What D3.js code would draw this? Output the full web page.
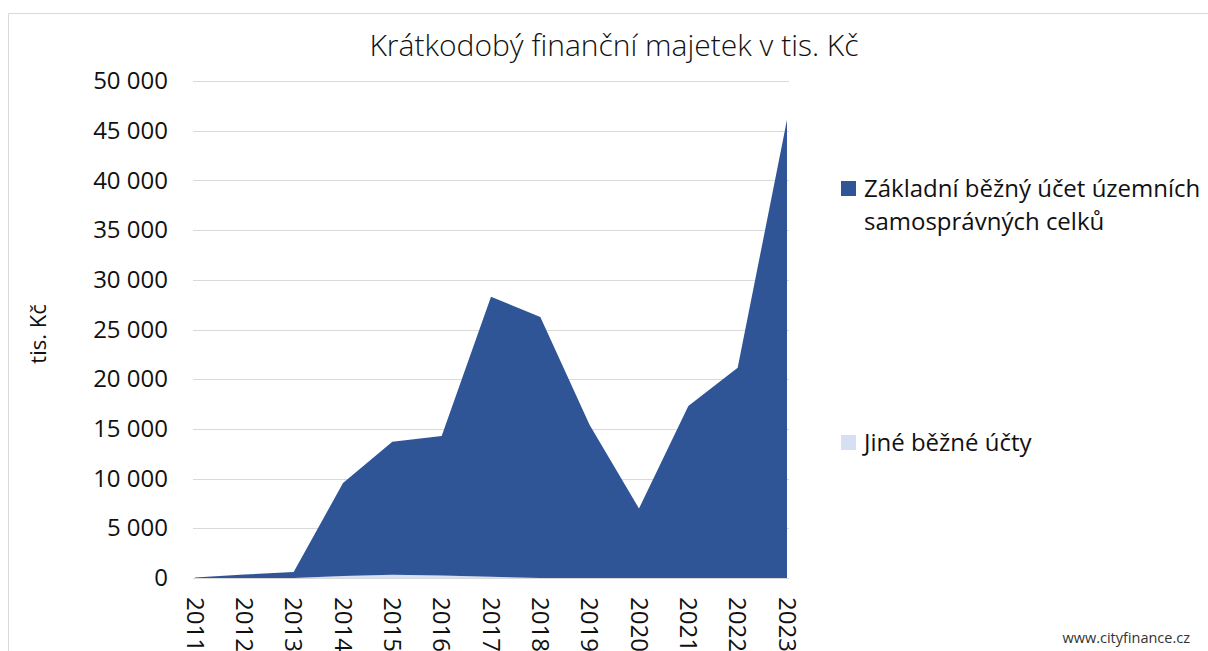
<!DOCTYPE html>
<html>
<head>
<meta charset="utf-8">
<script src="https://cdn.jsdelivr.net/npm/d3@7"></script>
<style>
  body { margin: 0; background: #fff; }
  svg { display: block; font-family: 'Open Sans', sans-serif; }
</style>
</head>
<body>
<div id="chart"></div>
<script>
// data (tis. Kč)
const years = ['2011', '2012', '2013', '2014', '2015', '2016', '2017', '2018', '2019', '2020', '2021', '2022', '2023'];
const jineUcty = [0, 0, 0, 200, 320, 250, 120, 0, 0, 0, 0, 0, 0];
const zakladniUcet = [50, 350, 600, 9350, 13380, 14030, 28180, 26250, 15400, 7000, 17300, 21150, 46100];
const yTicks = [0, 5000, 10000, 15000, 20000, 25000, 30000, 35000, 40000, 45000, 50000];

const colors = { jine: '#D6E0F2', zakladni: '#2F5597' };

// params
let width = 1208;
let height = 651;
let plotLeft = 195;
let plotRight = 787;
let plotTop = 81;
let plotBottom = 578;

const svg = d3.select('#chart').append('svg')
  .attr('width', width)
  .attr('height', height);

// chart border
svg.append('path')
  .attr('d', `M8.5,${height} V13.5 H${width}`)
  .attr('fill', 'none')
  .attr('stroke', '#d9d9d9');

const x = d3.scalePoint().domain(years).range([plotLeft, plotRight]);
const y = d3.scaleLinear().domain([0, 50000]).range([plotBottom, plotTop]);

// gridlines
svg.append('g')
  .selectAll('line')
  .data(yTicks.slice(1))
  .join('line')
  .attr('x1', plotLeft - 2)
  .attr('x2', plotRight + 2)
  .attr('y1', d => Math.round(y(d)) + 0.5)
  .attr('y2', d => Math.round(y(d)) + 0.5)
  .attr('stroke', '#d9d9d9');

// stacked areas (jiné at the bottom)
const rows = years.map((yr, i) => ({ year: yr, jine: jineUcty[i], zakladni: zakladniUcet[i] }));
const stack = d3.stack().keys(['jine', 'zakladni']);
const layers = stack(rows);

const area = d3.area()
  .x(d => x(d.data.year))
  .y0(d => y(d[0]))
  .y1(d => y(d[1]));

svg.append('g')
  .selectAll('path')
  .data(layers)
  .join('path')
  .attr('fill', d => colors[d.key])
  .attr('d', area);

// x axis line
svg.append('line')
  .attr('x1', plotLeft - 2)
  .attr('x2', plotRight + 2)
  .attr('y1', plotBottom + 0.5)
  .attr('y2', plotBottom + 0.5)
  .attr('stroke', '#d9d9d9');

// y axis labels
const fmt = v => d3.format(',')(v).replace(/,/g, '\u00a0');
const yAxis = d3.axisLeft(y).tickValues(yTicks).tickFormat(fmt).tickSize(0).tickPadding(27);
const yg = svg.append('g')
  .attr('transform', `translate(${plotLeft},0)`)
  .call(yAxis);
yg.select('.domain').remove();
yg.selectAll('text')
  .attr('font-family', "'Open Sans', sans-serif")
  .attr('font-size', 24)
  .attr('fill', '#111');

// x axis labels (rotated)
svg.append('g')
  .selectAll('text')
  .data(years)
  .join('text')
  .attr('transform', d => `translate(${x(d)},597) rotate(90)`)
  .attr('dy', '0.35em')
  .attr('font-size', 24)
  .attr('fill', '#111')
  .text(d => d);

// y axis title
svg.append('text')
  .attr('transform', 'translate(38,334) rotate(-90)')
  .attr('text-anchor', 'middle')
  .attr('dy', '0.35em')
  .attr('font-size', 22)
  .attr('fill', '#111')
  .text('tis. Kč');

// title
svg.append('text')
  .attr('x', 614)
  .attr('y', 56)
  .attr('text-anchor', 'middle')
  .attr('font-size', 30)
  .attr('font-weight', 300)
  .attr('fill', '#111')
  .text('Krátkodobý finanční majetek v tis. Kč');

// legend
const legend = [
  { key: 'zakladni', lines: ['Základní běžný účet územních', 'samosprávných celků'], top: 181 },
  { key: 'jine', lines: ['Jiné běžné účty'], top: 435 }
];
const lg = svg.append('g').selectAll('g').data(legend).join('g');
lg.append('rect')
  .attr('x', 841)
  .attr('y', d => d.top)
  .attr('width', 15)
  .attr('height', 15)
  .attr('fill', d => colors[d.key]);
lg.append('text')
  .attr('x', 864)
  .attr('y', d => d.top + 16)
  .attr('font-size', 24)
  .attr('fill', '#111')
  .selectAll('tspan')
  .data(d => d.lines)
  .join('tspan')
  .attr('x', 864)
  .attr('dy', (d, i) => i === 0 ? 0 : 33)
  .text(d => d);

// watermark
svg.append('text')
  .attr('x', 1190)
  .attr('y', 643)
  .attr('text-anchor', 'end')
  .attr('font-size', 14.5)
  .attr('fill', '#333')
  .text('www.cityfinance.cz');
</script>
</body>
</html>
